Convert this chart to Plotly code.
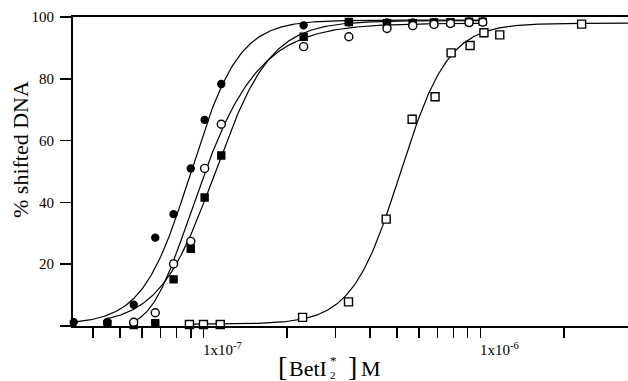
import numpy as np
import plotly.graph_objects as go

# ---------------- data ----------------
conc_main = [3.4e-8, 4.5e-8, 5.6e-8, 6.7e-8, 7.8e-8, 9.0e-8, 1.01e-7, 1.16e-7,
             2.3e-7, 3.35e-7, 4.6e-7, 5.7e-7, 6.8e-7, 7.8e-7, 9.1e-7, 1.02e-6]
filled_circle = [1.2, 1.3, 6.9, 28.6, 36.2, 51.0, 66.7, 78.3,
                 97.3, 98.3, 98.2, 98.2, 98.3, 98.3, 98.5, 98.5]
filled_square = [None, 0.7, 0.3, 0.9, 15.1, 25.0, 41.6, 55.2,
                 93.6, 98.4, 98.0, 98.0, 98.2, 98.3, 98.5, 98.5]
open_circle = [None, None, 1.2, 4.3, 20.1, 27.4, 51.0, 65.3,
               90.4, 93.6, 96.3, 97.2, 97.6, 97.9, 98.2, 98.3]

conc_open_square = [8.9e-8, 1.0e-7, 1.15e-7, 2.28e-7, 3.34e-7, 4.57e-7, 5.67e-7,
                    6.86e-7, 7.84e-7, 9.18e-7, 1.03e-6, 1.175e-6, 2.32e-6, 3.5e-6]
open_square = [0.5, 0.5, 0.5, 2.8, 7.8, 34.6, 66.9,
               74.2, 88.4, 90.8, 94.9, 94.2, 97.7, 97.7]

# fitted binding curves (model parameters)
fit_filled_circle = dict(model="hill", bottom=0.5, top=99.0, K=9.0e-8, n=5.0)
fit_filled_square = dict(model="hill", bottom=0.3, top=98.8, K=1.1e-7, n=4.3)
fit_open_circle = dict(model="gompertz", bottom=0.3, top=98.0, K=8.96e-8, n=3.15)
fit_open_square = dict(model="hill", bottom=0.6, top=98.0, K=5.13e-7, n=5.0)

y_tick_vals = [0, 20, 40, 60, 80, 100]
y_tick_text = ["", "20", "40", "60", "80", "100"]
x_tick_vals = [4e-8, 5e-8, 6e-8, 7e-8, 8e-8, 9e-8, 1e-7,
               2e-7, 3e-7, 4e-7, 5e-7, 6e-7, 7e-7, 8e-7, 9e-7, 1e-6, 2e-6]
x_tick_text = ["", "", "", "", "", "", "1x10<sup>-7</sup>",
               "", "", "", "", "", "", "", "", "1x10<sup>-6</sup>", ""]

# ---------------- figure ----------------
W, H = 628, 381
ML, MR, MT, MB = 73, 0, 17, 55
PW, PH = W - ML - MR, H - MT - MB
FONT = "Liberation Serif, Times New Roman, serif"


def fit_curve(p, x0, x1):
    x = np.logspace(np.log10(x0), np.log10(x1), 400)
    if p["model"] == "hill":
        f = 1.0 / (1.0 + (p["K"] / x) ** p["n"])
    else:
        f = np.exp(-(p["K"] / x) ** p["n"])
    return x, p["bottom"] + (p["top"] - p["bottom"]) * f


def first_x(xs, ys):
    return min(x for x, y in zip(xs, ys) if y is not None)


fig = go.Figure()
x_right = 3.6e-6
curve_specs = [
    (fit_filled_circle, first_x(conc_main, filled_circle), conc_main[-1]),
    (fit_filled_square, first_x(conc_main, filled_square), conc_main[-1]),
    (fit_open_circle, first_x(conc_main, open_circle), conc_main[-1]),
    (fit_open_square, conc_open_square[0], x_right),
]
for p, a, b in curve_specs:
    cx, cy = fit_curve(p, a, b)
    fig.add_trace(go.Scatter(x=cx, y=cy, mode="lines",
                             line=dict(color="black", width=1.2),
                             hoverinfo="skip", showlegend=False))

marker_specs = [
    (conc_main, filled_circle, "circle", "black", 7),
    (conc_main, filled_square, "square", "black", 7),
    (conc_main, open_circle, "circle", "white", 8),
    (conc_open_square, open_square, "square", "white", 8),
]
for xs, ys, sym, fill, size in marker_specs:
    fig.add_trace(go.Scatter(
        x=xs, y=ys, mode="markers", cliponaxis=False, showlegend=False,
        marker=dict(symbol=sym, size=size, color=fill,
                    line=dict(color="black", width=1.4))))

fig.update_xaxes(
    type="log", range=[-7.471, -5.467], showgrid=False, zeroline=False,
    showline=True, linecolor="black", linewidth=2, mirror=True,
    ticks="outside", ticklen=10, tickwidth=1.5, tickcolor="black",
    tickvals=x_tick_vals, ticktext=x_tick_text, ticklabelshift=19,
    ticklabelstandoff=-1,
    tickfont=dict(family=FONT, size=15, color="black"), automargin=False)
fig.update_yaxes(
    range=[0, 100], showgrid=False, zeroline=False,
    showline=True, linecolor="black", linewidth=2,
    ticks="outside", ticklen=11, tickwidth=1.5, tickcolor="black",
    tickvals=y_tick_vals, ticktext=y_tick_text, ticklabelstandoff=3,
    tickfont=dict(family=FONT, size=15, color="black"), automargin=False)


def px(xp):
    return (xp - ML) / PW


def py(yp):
    return (MT + PH - yp) / PH


def ann(text, xp, yp, size, xanchor="center", yanchor="middle", angle=0):
    fig.add_annotation(text=text, x=px(xp), y=py(yp), xref="paper", yref="paper",
                       showarrow=False, xanchor=xanchor, yanchor=yanchor,
                       textangle=angle, borderpad=0,
                       font=dict(family=FONT, size=size, color="black"))


# axis titles
ann("% shifted DNA", 20, 150, 22, angle=-90)
ann("[", 282, 366, 28)
ann("BetI", 288, 368, 22, xanchor="left")
ann("*", 333, 360, 13)
ann("2", 333, 375, 11)
ann("]", 352, 366, 28)
ann("M", 360, 368, 22, xanchor="left")

fig.update_layout(
    width=W, height=H, margin=dict(l=ML, r=MR, t=MT, b=MB, pad=0),
    paper_bgcolor="white", plot_bgcolor="white", showlegend=False)

fig.write_html("out.html",
               config={"displayModeBar": False, "staticPlot": True},
               post_script="document.body.style.margin='0';"
                           "document.body.style.overflow='hidden';")
